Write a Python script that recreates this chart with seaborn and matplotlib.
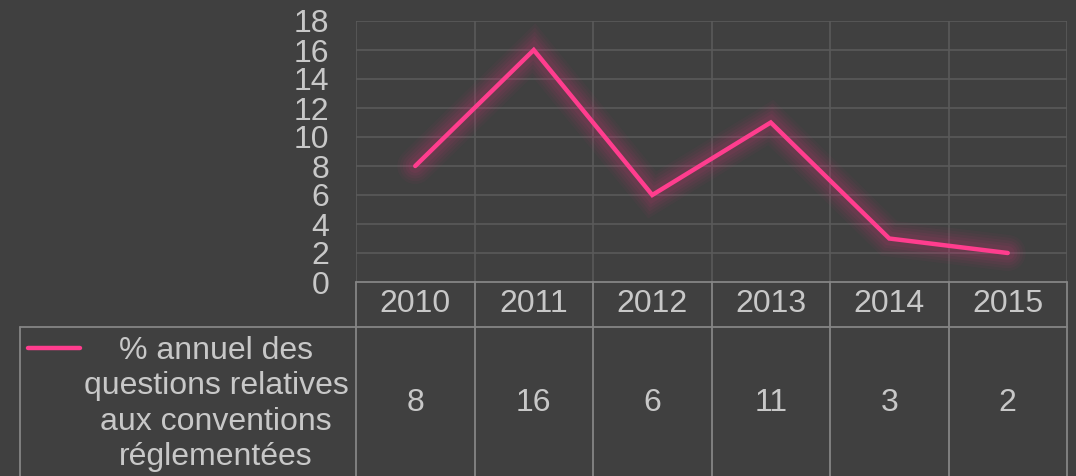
import numpy as np
import pandas as pd
import matplotlib
matplotlib.use("Agg")
import matplotlib.pyplot as plt
import matplotlib.patheffects as pe
from matplotlib.lines import Line2D
from matplotlib.transforms import blended_transform_factory
import seaborn as sns

years = ["2010", "2011", "2012", "2013", "2014", "2015"]
values = [8, 16, 6, 11, 3, 2]
series_label = "% annuel des\nquestions relatives\naux conventions\nréglementées"
yticks = [0, 2, 4, 6, 8, 10, 12, 14, 16, 18]

BG = "#404040"
TXT = "#C8C8C8"
GRID = "#5A5A5A"
BORDER = "#858585"
PINK = "#FF3D8E"
GLOW = "#E0307A"
FS = 23

sns.set_theme(style="dark")
plt.rcParams["font.family"] = ["Liberation Sans", "DejaVu Sans"]

W, H = 1076, 476
fig = plt.figure(figsize=(W / 100, H / 100), dpi=100, facecolor=BG)
L, R, T, B = 356, 1067, 21, 282
ax = fig.add_axes([L / W, 1 - B / H, (R - L) / W, (B - T) / H])
ax.set_facecolor(BG)

df = pd.DataFrame({"idx": np.arange(len(years)), "val": values})
glow = [pe.Stroke(linewidth=w, foreground=GLOW, alpha=a) for w, a in
        [(26, 0.04), (22, 0.05), (18, 0.06), (14, 0.07), (10, 0.08)]] + [pe.Normal()]
sns.lineplot(data=df, x="idx", y="val", ax=ax, color=PINK, linewidth=3.2,
             path_effects=glow, zorder=5)
for ln in ax.lines:
    ln.set_solid_capstyle("round")
    ln.set_solid_joinstyle("miter")

ax.set_xlim(-0.5, len(years) - 0.5)
ax.set_ylim(0, 18)
ax.set_yticks(yticks)
ax.set_yticklabels([str(v) for v in yticks], fontsize=FS, color=TXT)
ax.tick_params(axis="y", length=0, pad=19)
ax.set_xticks([])
ax.set_xlabel("")
ax.set_ylabel("")
for y in yticks[1:]:
    ax.axhline(y, color=GRID, lw=1.2, zorder=1)
for i in range(len(years) + 1):
    ax.axvline(i - 0.5, color=GRID, lw=1.2, zorder=1)
for s in ax.spines.values():
    s.set_visible(False)

# data table below the axis
tr = blended_transform_factory(ax.transData, ax.transAxes)
ph = B - T
hdr = -(327 - B) / ph
bot = -(H + 2 - B) / ph
step = (R - L) / len(years)
xleft = -0.5 - (L - 20) / step

def seg(x0, x1, y0, y1):
    ax.add_line(Line2D([x0, x1], [y0, y1], transform=tr, color=BORDER,
                       lw=1.3, clip_on=False, zorder=6))

n = len(years)
seg(-0.5, n - 0.5, 0, 0)
seg(xleft, n - 0.5, hdr, hdr)
seg(xleft, xleft, hdr, bot)
for i in range(n + 1):
    seg(i - 0.5, i - 0.5, 0, bot)

ymid_hdr = hdr / 2
ymid_row = -(403 - B) / ph
for i, (yr, v) in enumerate(zip(years, values)):
    ax.text(i, ymid_hdr, yr, transform=tr, ha="center", va="center",
            fontsize=FS, color=TXT, clip_on=False)
    ax.text(i, ymid_row, str(v), transform=tr, ha="center", va="center",
            fontsize=FS, color=TXT, clip_on=False)

# legend key + label
xk0 = -0.5 - (L - 28) / step
xk1 = -0.5 - (L - 80) / step
yk = -(348 - B) / ph
ax.add_line(Line2D([xk0, xk1], [yk, yk], transform=tr, color=PINK, lw=3.2,
                   solid_capstyle="round", clip_on=False, zorder=7))
xlab = -0.5 - (L - 216) / step
ax.text(xlab, -(404 - B) / ph, series_label, transform=tr, ha="center",
        va="center", fontsize=FS, color=TXT, linespacing=1.24,
        multialignment="center", clip_on=False)

fig.savefig("out.png", dpi=100, facecolor=BG)
